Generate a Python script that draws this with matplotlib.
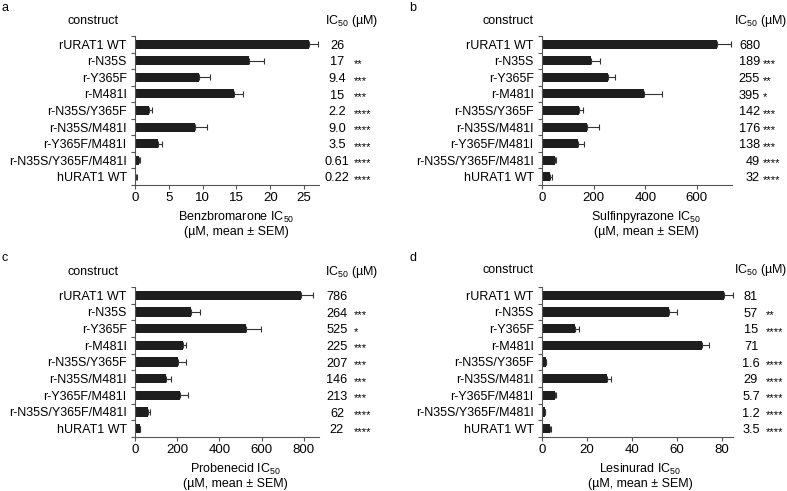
import matplotlib
matplotlib.use("Agg")
import matplotlib.pyplot as plt
from matplotlib.transforms import blended_transform_factory, offset_copy
import numpy as np

plt.rcParams['font.family'] = ['Liberation Sans', 'DejaVu Sans']
plt.rcParams['mathtext.default'] = 'regular'
plt.rcParams['font.size'] = 9

constructs = ["rURAT1 WT", "r-N35S", "r-Y365F", "r-M481I", "r-N35S/Y365F",
              "r-N35S/M481I", "r-Y365F/M481I", "r-N35S/Y365F/M481I", "hURAT1 WT"]

# Benzbromarone
benz_mean = [25.7, 16.9, 9.4, 14.7, 2.1, 8.9, 3.45, 0.61, 0.22]
benz_sem = [1.3, 2.2, 1.7, 1.2, 0.4, 1.7, 0.5, 0.12, 0.05]
benz_lbl = ["26", "17", "9.4", "15", "2.2", "9.0", "3.5", "0.61", "0.22"]
benz_sig = ["", "**", "***", "***", "****", "****", "****", "****", "****"]

# Sulfinpyrazone
sulf_mean = [679, 189, 255, 397, 142, 176, 138, 49, 32]
sulf_sem = [55, 34, 28, 67, 16, 45, 23, 6, 7]
sulf_lbl = ["680", "189", "255", "395", "142", "176", "138", "49", "32"]
sulf_sig = ["", "***", "**", "*", "***", "***", "***", "****", "****"]

# Probenecid
prob_mean = [786, 264, 525, 229, 205, 146, 213, 62, 22]
prob_sem = [59, 42, 72, 12, 37, 23, 37, 8, 3]
prob_lbl = ["786", "264", "525", "225", "207", "146", "213", "62", "22"]
prob_sig = ["", "***", "*", "***", "***", "***", "***", "****", "****"]

# Lesinurad
les_mean = [80.9, 56.3, 14.8, 71.1, 1.6, 29.0, 5.6, 1.2, 3.5]
les_sem = [4.0, 3.7, 1.5, 3.3, 0.3, 1.5, 0.8, 0.2, 0.5]
les_lbl = ["81", "57", "15", "71", "1.6", "29", "5.7", "1.2", "3.5"]
les_sig = ["", "**", "****", "", "****", "****", "****", "****", "****"]

W, H = 787, 491
fig = plt.figure(figsize=(W / 100, H / 100), dpi=100)


def fx(px):
    return px / W


def fy(py):
    return 1 - py / H


panels = [
    dict(letter="a", box=(135, 36, 319, 185), mean=benz_mean, sem=benz_sem, lbl=benz_lbl, sig=benz_sig,
         xlim=27.2, ticks=[0, 5, 10, 15, 20, 25], drug="Benzbromarone",
         letter_xy=(2, 8), cons_xy=(93, 21), ic_xy=(352, 21), val_x=337, val_ha="center", sig_x=354,
         xl_x=236, xl_y=(217, 232)),
    dict(letter="b", box=(542, 36, 732, 185), mean=sulf_mean, sem=sulf_sem, lbl=sulf_lbl, sig=sulf_sig,
         xlim=736, ticks=[0, 200, 400, 600], drug="Sulfinpyrazone",
         letter_xy=(409, 8), cons_xy=(508, 21), ic_xy=(761, 21), val_x=760, val_ha="right", sig_x=763,
         xl_x=646, xl_y=(217, 232)),
    dict(letter="c", box=(135, 287, 319, 437), mean=prob_mean, sem=prob_sem, lbl=prob_lbl, sig=prob_sig,
         xlim=872, ticks=[0, 200, 400, 600, 800], drug="Probenecid",
         letter_xy=(2, 258), cons_xy=(93, 272), ic_xy=(352, 272), val_x=337, val_ha="center", sig_x=354,
         xl_x=235, xl_y=(469, 484)),
    dict(letter="d", box=(542, 287, 733, 437), mean=les_mean, sem=les_sem, lbl=les_lbl, sig=les_sig,
         xlim=85, ticks=[0, 20, 40, 60, 80], drug="Lesinurad",
         letter_xy=(409, 258), cons_xy=(508, 270), ic_xy=(761, 270), val_x=751, val_ha="center", sig_x=766,
         xl_x=640, xl_y=(469, 484)),
]

line_col = "#555555"
num_fs = 9.2
star_fs = 8.0
for p in panels:
    l, t, r, b = p["box"]
    ax = fig.add_axes([fx(l), fy(b), fx(r - l), (b - t) / H])
    y = np.arange(len(constructs))
    ax.barh(y, p["mean"], height=0.55, color="#1e1e1e", edgecolor="none", zorder=2)
    ax.errorbar(p["mean"], y, xerr=[np.zeros(len(y)), p["sem"]], fmt="none",
                ecolor="#333333", elinewidth=0.8, capsize=2, capthick=0.8, zorder=1)
    ax.set_ylim(len(y) - 0.5, -0.5)
    ax.set_xlim(0, p["xlim"])
    ax.set_yticks(y)
    ax.set_yticklabels(constructs)
    ax.set_yticks(np.arange(-0.5, len(y), 1.0), minor=True)
    ax.tick_params(axis="y", which="major", length=0, pad=6, labelsize=9)
    ax.tick_params(axis="y", which="minor", length=3, width=0.8, color=line_col)
    ax.set_xticks(p["ticks"])
    ax.tick_params(axis="x", length=3, width=0.8, color=line_col, pad=2, labelsize=9.5)
    for s in ["top", "right"]:
        ax.spines[s].set_visible(False)
    for s in ["left", "bottom"]:
        ax.spines[s].set_color(line_col)
        ax.spines[s].set_linewidth(0.8)

    tr = blended_transform_factory(fig.transFigure, ax.transData)
    num_px = num_fs * 100 / 72
    star_px = star_fs * 100 / 72
    num_tr = offset_copy(tr, fig=fig, x=0, y=-0.36 * num_px, units="dots")
    star_tr = offset_copy(tr, fig=fig, x=0, y=-0.56 * star_px, units="dots")
    for yi, (lab, sg) in enumerate(zip(p["lbl"], p["sig"])):
        ax.text(fx(p["val_x"]), yi, lab, transform=num_tr, ha=p["val_ha"], va="baseline",
                fontsize=num_fs, clip_on=False)
        if sg:
            ax.text(fx(p["sig_x"]), yi, sg, transform=star_tr, ha="left", va="baseline",
                    fontsize=star_fs, clip_on=False)

    fig.text(fx(p["letter_xy"][0]), fy(p["letter_xy"][1]), p["letter"], ha="left", va="center", fontsize=9)
    fig.text(fx(p["cons_xy"][0]), fy(p["cons_xy"][1]), "construct", ha="center", va="center", fontsize=9)
    fig.text(fx(p["ic_xy"][0]), fy(p["ic_xy"][1]), "IC$_{50}$ (µM)", ha="center", va="center", fontsize=9)
    fig.text(fx(p["xl_x"]), fy(p["xl_y"][0]), p["drug"] + " IC$_{50}$", ha="center", va="center", fontsize=9)
    fig.text(fx(p["xl_x"]), fy(p["xl_y"][1]), "(µM, mean ± SEM)", ha="center", va="center", fontsize=9)

fig.savefig("out.png", dpi=100)
